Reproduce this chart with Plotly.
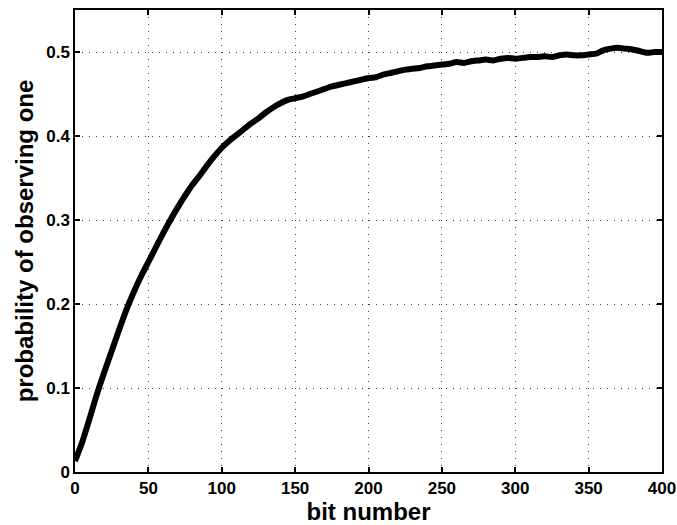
import plotly.graph_objects as go

bit_number = list(range(0, 401, 5))
prob_one = [
    0.013, 0.036, 0.064, 0.093, 0.119, 0.144, 0.169, 0.193, 0.214, 0.233,
    0.250, 0.267, 0.284, 0.300, 0.315, 0.329, 0.342, 0.353, 0.365, 0.376,
    0.386, 0.394, 0.401, 0.408, 0.415, 0.421, 0.428, 0.434, 0.439, 0.443,
    0.445, 0.447, 0.450, 0.453, 0.456, 0.459, 0.461, 0.463, 0.465, 0.467,
    0.469, 0.470, 0.473, 0.475, 0.477, 0.479, 0.480, 0.481, 0.483, 0.484,
    0.485, 0.486, 0.488, 0.487, 0.489, 0.490, 0.491, 0.490, 0.492, 0.493,
    0.492, 0.493, 0.494, 0.494, 0.495, 0.494, 0.496, 0.497, 0.496, 0.496,
    0.497, 0.498, 0.502, 0.504, 0.505, 0.504, 0.503, 0.501, 0.499, 0.500,
    0.500,
]
x_ticks = [0, 50, 100, 150, 200, 250, 300, 350, 400]
y_ticks = [0, 0.1, 0.2, 0.3, 0.4, 0.5]
y_tick_text = ["0", "0.1", "0.2", "0.3", "0.4", "0.5"]

fig = go.Figure()
fig.add_trace(go.Scatter(
    x=bit_number, y=prob_one, mode="lines",
    line=dict(color="black", width=6, shape="spline", smoothing=0.6),
    showlegend=False,
))

font_family = "Liberation Sans, Arial, sans-serif"
axis_common = dict(
    showline=True, linecolor="black", linewidth=1.5, mirror="ticks",
    ticks="inside", ticklen=5, tickcolor="black", tickwidth=1.5,
    showgrid=True, gridcolor="#444444", gridwidth=1, griddash="1px,6px",
    zeroline=False, automargin=False,
    tickfont=dict(family=font_family, size=17, color="black", weight="bold"),
)

fig.update_layout(
    width=677, height=525,
    margin=dict(l=75, r=15, t=10, b=53),
    paper_bgcolor="white", plot_bgcolor="white",
    xaxis=dict(
        range=[0, 400], tickvals=x_ticks,
        title=dict(text="bit number", standoff=4,
                   font=dict(family=font_family, size=24, color="black", weight="bold")),
        **axis_common,
    ),
    yaxis=dict(
        range=[0, 0.55], tickvals=y_ticks, ticktext=y_tick_text,
        title=dict(text="probability of observing one", standoff=6,
                   font=dict(family=font_family, size=24, color="black", weight="bold")),
        **axis_common,
    ),
)

fig.write_html("out.html")
